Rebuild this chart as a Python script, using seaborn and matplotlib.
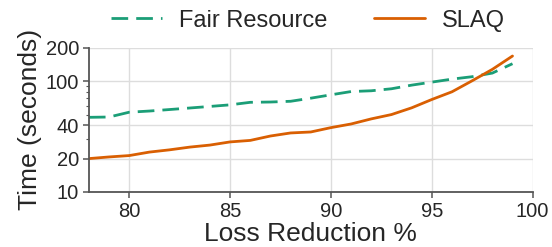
import numpy as np
import pandas as pd
import matplotlib
matplotlib.use("Agg")
import matplotlib.pyplot as plt
import seaborn as sns
from matplotlib.ticker import FixedLocator, FixedFormatter, LogLocator, NullFormatter

loss_reduction = list(range(78, 100))
fair_resource = [47.2, 47.5, 52.5, 53.8, 55.5, 57.3, 59.2, 61.2, 64.5, 64.9, 65.9, 70.3,
                 75.4, 80.7, 82.0, 85.5, 92.2, 98.2, 104.5, 109.9, 118.5, 144.0]
slaq = [20.0, 20.7, 21.3, 22.9, 24.0, 25.4, 26.5, 28.3, 29.2, 32.0, 34.1, 34.8,
        38.1, 41.1, 45.7, 50.0, 57.5, 68.4, 80.3, 101.0, 128.0, 169.0]
series_names = ["Fair Resource", "SLAQ"]
y_ticks = [10, 20, 40, 100, 200]
x_ticks = [80, 85, 90, 95, 100]

df = pd.DataFrame({
    "x": loss_reduction * 2,
    "y": fair_resource + slaq,
    "series": [series_names[0]] * len(loss_reduction) + [series_names[1]] * len(loss_reduction),
})

sns.set_style("white")
plt.rcParams["font.family"] = ["Liberation Sans", "DejaVu Sans"]
plt.rcParams["lines.linewidth"] = 2.0

fig = plt.figure(figsize=(5.52, 2.47), dpi=100)
ax = fig.add_axes([0.161, 0.223, 0.804, 0.583])

palette = {"Fair Resource": "#1b9e77", "SLAQ": "#d95f02"}
dash_pattern = (6, 2.9)
sns.lineplot(data=df, x="x", y="y", hue="series", style="series",
             palette=palette, dashes={"Fair Resource": dash_pattern, "SLAQ": ""},
             linewidth=2.0, ax=ax, legend=True)

ax.set_yscale("log")
ax.set_ylim(10, 200)
ax.set_xlim(78, 100)
ax.yaxis.set_major_locator(FixedLocator(y_ticks))
ax.yaxis.set_major_formatter(FixedFormatter([str(t) for t in y_ticks]))
ax.yaxis.set_minor_locator(LogLocator(base=10, subs=np.arange(2, 10)))
ax.yaxis.set_minor_formatter(NullFormatter())
ax.set_xticks(x_ticks)
ax.set_xticklabels([str(t) for t in x_ticks])

ax.grid(True, which="major", color="#dddddd", linewidth=1.0)
for s in ["top", "right"]:
    ax.spines[s].set_visible(False)
for s in ["left", "bottom"]:
    ax.spines[s].set_color("#555555")
    ax.spines[s].set_linewidth(1.3)
ax.tick_params(axis="both", which="major", direction="out", length=4, width=1.1,
               color="#555555", labelsize=14.5, pad=3, left=True, bottom=True)
ax.tick_params(axis="y", which="minor", direction="out", length=2.5, width=0.8,
               color="#555555", left=True)

ax.set_xlabel("Loss Reduction %", fontsize=19, labelpad=1)
ax.set_ylabel("Time (seconds)", fontsize=19, labelpad=3)

handles, labels = ax.get_legend_handles_labels()
leg = ax.legend(handles=handles, labels=labels, loc="center", bbox_to_anchor=(0.494, 1.19),
                ncol=2, frameon=False, fontsize=17, handlelength=2.16, columnspacing=2.0,
                handletextpad=0.7)
for line, lab in zip(leg.get_lines(), labels):
    line.set_linewidth(2.0)
    if lab == "Fair Resource":
        line.set_linestyle((0, dash_pattern))
    else:
        line.set_linestyle("-")

fig.savefig("out.png", dpi=100)
